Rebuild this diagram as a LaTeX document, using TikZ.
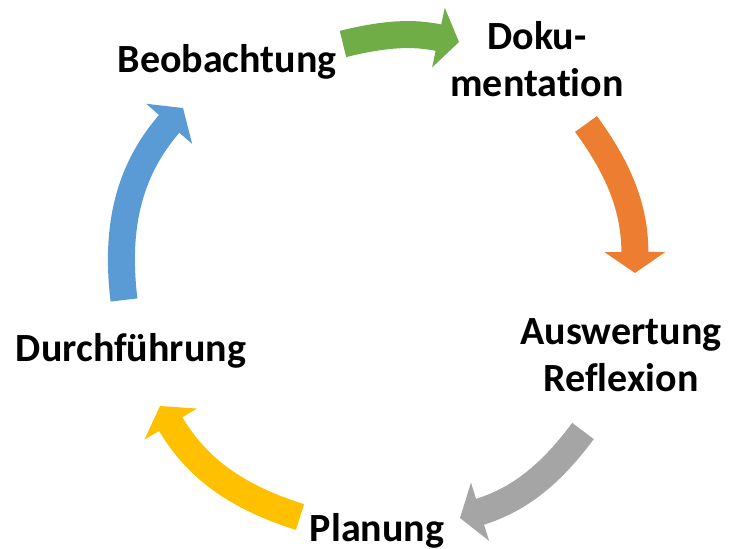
\documentclass[tikz,border=0pt]{standalone}
\usepackage{fontspec}
\setmainfont{Carlito}[Ligatures=NoCommon]
\usepackage{tikz}
\usetikzlibrary{arrows.meta}
\usetikzlibrary{positioning}

\definecolor{gruen}{HTML}{70AD47}
\definecolor{orange}{HTML}{ED7D31}
\definecolor{grau}{HTML}{A5A5A5}
\definecolor{gelb}{HTML}{FFC000}
\definecolor{blau}{HTML}{5B9BD5}

\begin{document}
\begin{tikzpicture}[x=1pt, y=1pt,
    schritt/.style={font=\bfseries\fontsize{40}{47}\selectfont, align=center, inner sep=0pt},
    pfeil/.style={line width=27pt, -{Triangle[width=60pt,length=21pt]}}]
    \useasboundingbox (0,0) rectangle (734,549);
    \node[schritt, anchor=base] (beob) at (227,476) {Beobachtung};
    \node[schritt, anchor=base] (doku) at (537,452) {Doku-\\mentation};
    \node[schritt, anchor=base] (ausw) at (621,157) {Auswertung\\Reflexion};
    \node[schritt, anchor=base] (plan) at (377,7) {Planung};
    \node[schritt, anchor=base] (durch) at (131,187) {Durchführung};
    \coordinate (gruen-a) at (343,505);
    \coordinate (gruen-b) at (459,507);
    \coordinate (orange-a) at (586,425);
    \coordinate (orange-b) at (635,276);
    \coordinate (grau-a) at (583,118);
    \coordinate (grau-b) at (460,31);
    \coordinate (gelb-a) at (300,32);
    \coordinate (gelb-b) at (160,143);
    \coordinate (blau-a) at (124,249);
    \coordinate (blau-b) at (183,441);
    \draw[pfeil, gruen] (gruen-a) to[bend left=13] (gruen-b);
    \draw[pfeil, orange] (orange-a) to[bend left=18] (orange-b);
    \draw[pfeil, grau] (grau-a) to[bend left=18] (grau-b);
    \draw[pfeil, gelb] (gelb-a) to[bend left=21] (gelb-b);
    \draw[pfeil, blau] (blau-a) to[bend left=24] (blau-b);
\end{tikzpicture}
\end{document}
